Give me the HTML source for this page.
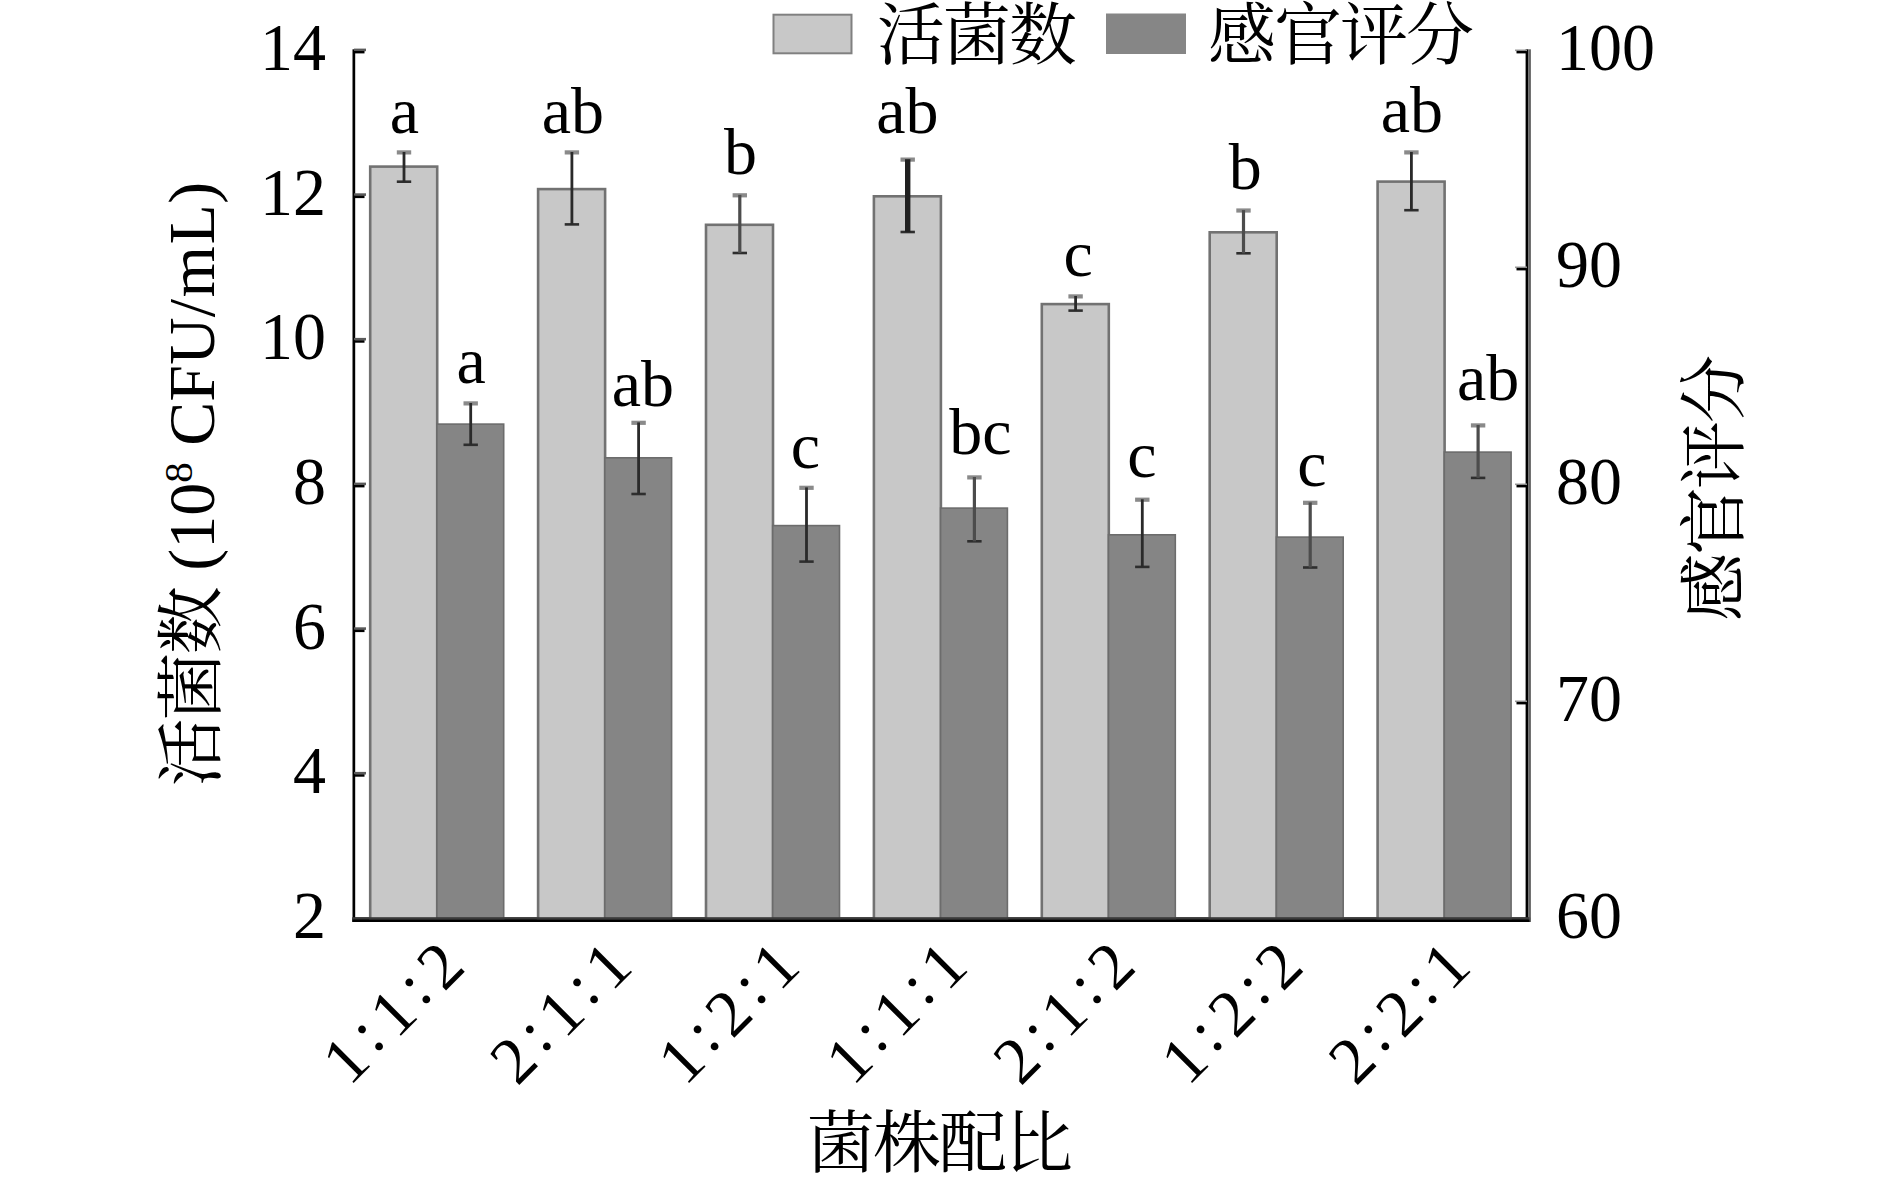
<!DOCTYPE html>
<html lang="zh"><head><meta charset="utf-8"><title>菌株配比</title>
<style>html,body{margin:0;padding:0;background:#fff}svg{display:block}text{font-family:"Liberation Serif", "Noto Serif CJK SC", serif;font-size:66px;fill:#000}.cj{font-size:68px;letter-spacing:-2px}</style></head><body>
<svg width="1890" height="1184" viewBox="0 0 1890 1184">
<rect x="0" y="0" width="1890" height="1184" fill="#fff"/>
<rect x="352.5" y="49.3" width="2.7" height="872.5" fill="#000"/>
<rect x="352.5" y="917.5" width="1178" height="4.5" fill="#000"/>
<rect x="1525.6" y="49.3" width="2.6" height="872.5" fill="#000"/>
<rect x="1528.2" y="49.3" width="2.7" height="872.5" fill="#636363"/>
<rect x="354" y="771.9" width="12" height="2.6" fill="#5a5a5a"/>
<rect x="354" y="774.3" width="10.5" height="2.4" fill="#000"/>
<rect x="354" y="627.3" width="12" height="2.6" fill="#5a5a5a"/>
<rect x="354" y="629.7" width="10.5" height="2.4" fill="#000"/>
<rect x="354" y="482.6" width="12" height="2.6" fill="#5a5a5a"/>
<rect x="354" y="485.0" width="10.5" height="2.4" fill="#000"/>
<rect x="354" y="337.9" width="12" height="2.6" fill="#5a5a5a"/>
<rect x="354" y="340.3" width="10.5" height="2.4" fill="#000"/>
<rect x="354" y="193.3" width="12" height="2.6" fill="#5a5a5a"/>
<rect x="354" y="195.7" width="10.5" height="2.4" fill="#000"/>
<rect x="354" y="48.6" width="12" height="2.6" fill="#5a5a5a"/>
<rect x="354" y="51.0" width="10.5" height="2.4" fill="#000"/>
<rect x="1515" y="700.5" width="12" height="1.6" fill="#9a9a9a"/>
<rect x="1516.5" y="701.9" width="10" height="2.5" fill="#000"/>
<rect x="1515" y="483.5" width="12" height="1.6" fill="#9a9a9a"/>
<rect x="1516.5" y="484.9" width="10" height="2.5" fill="#000"/>
<rect x="1515" y="266.5" width="12" height="1.6" fill="#9a9a9a"/>
<rect x="1516.5" y="267.9" width="10" height="2.5" fill="#000"/>
<rect x="1515" y="49.5" width="12" height="1.6" fill="#9a9a9a"/>
<rect x="1516.5" y="50.9" width="10" height="2.5" fill="#000"/>
<rect x="370.2" y="166.6" width="67.0" height="752.9" fill="#c8c8c8" stroke="#727272" stroke-width="2.6"/>
<rect x="436.9" y="424.1" width="66.8" height="495.4" fill="#858585" stroke="#6c6c6c" stroke-width="1.6"/>
<rect x="538.1" y="189.1" width="67.0" height="730.4" fill="#c8c8c8" stroke="#727272" stroke-width="2.6"/>
<rect x="604.8" y="457.8" width="66.8" height="461.7" fill="#858585" stroke="#6c6c6c" stroke-width="1.6"/>
<rect x="706.0" y="224.8" width="67.0" height="694.7" fill="#c8c8c8" stroke="#727272" stroke-width="2.6"/>
<rect x="772.7" y="525.6" width="66.8" height="393.9" fill="#858585" stroke="#6c6c6c" stroke-width="1.6"/>
<rect x="873.9" y="196.3" width="67.0" height="723.2" fill="#c8c8c8" stroke="#727272" stroke-width="2.6"/>
<rect x="940.6" y="508.1" width="66.8" height="411.4" fill="#858585" stroke="#6c6c6c" stroke-width="1.6"/>
<rect x="1041.8" y="304.1" width="67.0" height="615.4" fill="#c8c8c8" stroke="#727272" stroke-width="2.6"/>
<rect x="1108.5" y="534.8" width="66.8" height="384.7" fill="#858585" stroke="#6c6c6c" stroke-width="1.6"/>
<rect x="1209.7" y="232.3" width="67.0" height="687.2" fill="#c8c8c8" stroke="#727272" stroke-width="2.6"/>
<rect x="1276.4" y="537.1" width="66.8" height="382.4" fill="#858585" stroke="#6c6c6c" stroke-width="1.6"/>
<rect x="1377.6" y="181.6" width="67.0" height="737.9" fill="#c8c8c8" stroke="#727272" stroke-width="2.6"/>
<rect x="1444.3" y="452.1" width="66.8" height="467.4" fill="#858585" stroke="#6c6c6c" stroke-width="1.6"/>
<rect x="352.5" y="917.2" width="1177" height="2.6" fill="#3a3a3a"/>
<rect x="352.5" y="919.6" width="1177" height="2.4" fill="#000"/>
<rect x="396.8" y="150.3" width="14.4" height="4.2" fill="#8a8a8a"/>
<rect x="396.8" y="180.4" width="14.4" height="2.6" fill="#2e2e2e"/>
<rect x="402.6" y="152.0" width="2.8" height="29.7" fill="#2a2a2a"/>
<text x="404.5" y="133.0" text-anchor="middle">a</text>
<rect x="463.5" y="401.3" width="14.4" height="4.2" fill="#8a8a8a"/>
<rect x="463.5" y="443.5" width="14.4" height="2.6" fill="#2e2e2e"/>
<rect x="469.3" y="403.0" width="2.8" height="41.8" fill="#2a2a2a"/>
<text x="471.2" y="382.7" text-anchor="middle">a</text>
<rect x="564.7" y="150.3" width="14.4" height="4.2" fill="#8a8a8a"/>
<rect x="564.7" y="223.1" width="14.4" height="2.6" fill="#2e2e2e"/>
<rect x="570.5" y="152.0" width="2.8" height="72.4" fill="#2a2a2a"/>
<text x="572.9" y="133.0" text-anchor="middle">ab</text>
<rect x="631.4" y="420.7" width="14.4" height="4.2" fill="#8a8a8a"/>
<rect x="631.4" y="492.7" width="14.4" height="2.6" fill="#2e2e2e"/>
<rect x="637.2" y="422.4" width="2.8" height="71.6" fill="#2a2a2a"/>
<text x="642.8" y="405.8" text-anchor="middle">ab</text>
<rect x="732.6" y="193.2" width="14.4" height="4.2" fill="#8a8a8a"/>
<rect x="732.6" y="251.7" width="14.4" height="2.6" fill="#2e2e2e"/>
<rect x="738.2" y="194.9" width="3.2" height="58.1" fill="#4c4c4c"/>
<text x="740.6" y="174.4" text-anchor="middle">b</text>
<rect x="799.3" y="485.7" width="14.4" height="4.2" fill="#8a8a8a"/>
<rect x="799.3" y="560.3" width="14.4" height="2.6" fill="#2e2e2e"/>
<rect x="805.1" y="487.4" width="2.8" height="74.2" fill="#2a2a2a"/>
<text x="805.5" y="467.7" text-anchor="middle">c</text>
<rect x="900.5" y="157.5" width="14.4" height="4.2" fill="#8a8a8a"/>
<rect x="900.5" y="230.7" width="14.4" height="2.6" fill="#2e2e2e"/>
<rect x="905.0" y="159.2" width="5.4" height="72.8" fill="#202020"/>
<text x="907.4" y="133.0" text-anchor="middle">ab</text>
<rect x="967.2" y="475.3" width="14.4" height="4.2" fill="#8a8a8a"/>
<rect x="967.2" y="540.0" width="14.4" height="2.6" fill="#2e2e2e"/>
<rect x="972.8" y="477.0" width="3.2" height="64.3" fill="#4c4c4c"/>
<text x="980.4" y="453.5" text-anchor="middle">bc</text>
<rect x="1068.4" y="294.3" width="14.4" height="4.2" fill="#8a8a8a"/>
<rect x="1068.4" y="309.3" width="14.4" height="2.6" fill="#2e2e2e"/>
<rect x="1074.2" y="296.0" width="2.8" height="14.6" fill="#2a2a2a"/>
<text x="1078.1" y="276.1" text-anchor="middle">c</text>
<rect x="1135.1" y="497.6" width="14.4" height="4.2" fill="#8a8a8a"/>
<rect x="1135.1" y="565.6" width="14.4" height="2.6" fill="#2e2e2e"/>
<rect x="1140.9" y="499.3" width="2.8" height="67.6" fill="#2a2a2a"/>
<text x="1142.0" y="477.4" text-anchor="middle">c</text>
<rect x="1236.3" y="208.4" width="14.4" height="4.2" fill="#8a8a8a"/>
<rect x="1236.3" y="252.0" width="14.4" height="2.6" fill="#2e2e2e"/>
<rect x="1241.9" y="210.1" width="3.2" height="43.2" fill="#4c4c4c"/>
<text x="1245.2" y="188.7" text-anchor="middle">b</text>
<rect x="1303.0" y="500.7" width="14.4" height="4.2" fill="#8a8a8a"/>
<rect x="1303.0" y="566.2" width="14.4" height="2.6" fill="#2e2e2e"/>
<rect x="1308.6" y="502.4" width="3.2" height="65.1" fill="#4c4c4c"/>
<text x="1312.0" y="486.2" text-anchor="middle">c</text>
<rect x="1404.2" y="150.3" width="14.4" height="4.2" fill="#8a8a8a"/>
<rect x="1404.2" y="208.9" width="14.4" height="2.6" fill="#2e2e2e"/>
<rect x="1410.0" y="152.0" width="2.8" height="58.2" fill="#2a2a2a"/>
<text x="1411.9" y="132.1" text-anchor="middle">ab</text>
<rect x="1470.9" y="423.3" width="14.4" height="4.2" fill="#8a8a8a"/>
<rect x="1470.9" y="476.6" width="14.4" height="2.6" fill="#2e2e2e"/>
<rect x="1476.5" y="425.0" width="3.2" height="52.9" fill="#4c4c4c"/>
<text x="1488.1" y="400.2" text-anchor="middle">ab</text>
<text transform="translate(326 937.8) scale(1 1.03)" text-anchor="end">2</text>
<text transform="translate(326 793.1) scale(1 1.03)" text-anchor="end">4</text>
<text transform="translate(326 648.5) scale(1 1.03)" text-anchor="end">6</text>
<text transform="translate(326 503.8) scale(1 1.03)" text-anchor="end">8</text>
<text transform="translate(326 359.1) scale(1 1.03)" text-anchor="end">10</text>
<text transform="translate(326 214.5) scale(1 1.03)" text-anchor="end">12</text>
<text transform="translate(326 69.8) scale(1 1.03)" text-anchor="end">14</text>
<text transform="translate(1556 937.8) scale(1 1.03)">60</text>
<text transform="translate(1556 720.8) scale(1 1.03)">70</text>
<text transform="translate(1556 503.8) scale(1 1.03)">80</text>
<text transform="translate(1556 286.8) scale(1 1.03)">90</text>
<text transform="translate(1556 69.8) scale(1 1.03)">100</text>
<text transform="translate(349.6 1086.9) rotate(-45)" x="0.0 40.3 66.7 107.0 133.4" dy="0.0 -4.7 4.7 -4.7 4.7">1:1:2</text>
<text transform="translate(517.3 1086.9) rotate(-45)" x="0.0 40.3 66.7 107.0 133.4" dy="0.0 -4.7 4.7 -4.7 4.7">2:1:1</text>
<text transform="translate(685.0 1086.9) rotate(-45)" x="0.0 40.3 66.7 107.0 133.4" dy="0.0 -4.7 4.7 -4.7 4.7">1:2:1</text>
<text transform="translate(852.7 1086.9) rotate(-45)" x="0.0 40.3 66.7 107.0 133.4" dy="0.0 -4.7 4.7 -4.7 4.7">1:1:1</text>
<text transform="translate(1020.4 1086.9) rotate(-45)" x="0.0 40.3 66.7 107.0 133.4" dy="0.0 -4.7 4.7 -4.7 4.7">2:1:2</text>
<text transform="translate(1188.1 1086.9) rotate(-45)" x="0.0 40.3 66.7 107.0 133.4" dy="0.0 -4.7 4.7 -4.7 4.7">1:2:2</text>
<text transform="translate(1355.8 1086.9) rotate(-45)" x="0.0 40.3 66.7 107.0 133.4" dy="0.0 -4.7 4.7 -4.7 4.7">2:2:1</text>
<rect x="773.5" y="14.7" width="78" height="38.6" fill="#c8c8c8" stroke="#808080" stroke-width="2"/>
<text class="cj" x="877" y="59.3">活菌数</text>
<rect x="1106" y="13.5" width="80" height="40.5" fill="#868686"/>
<text class="cj" x="1208" y="59">感官评分</text>
<text class="cj" x="939" y="1167.3" text-anchor="middle">菌株配比</text>
<text transform="translate(213.6 484) rotate(-90)" text-anchor="middle"><tspan class="cj" dy="1.5">活菌数</tspan><tspan dy="-1.5" dx="1"> (10</tspan><tspan font-size="41" dy="-21.5">8</tspan><tspan dy="21.5" dx="0 0 0 0 0 1.5 1.5 0.5"> CFU/mL)</tspan></text>
<text class="cj" transform="translate(1738 489) rotate(-90)" text-anchor="middle">感官评分</text>
</svg></body></html>
